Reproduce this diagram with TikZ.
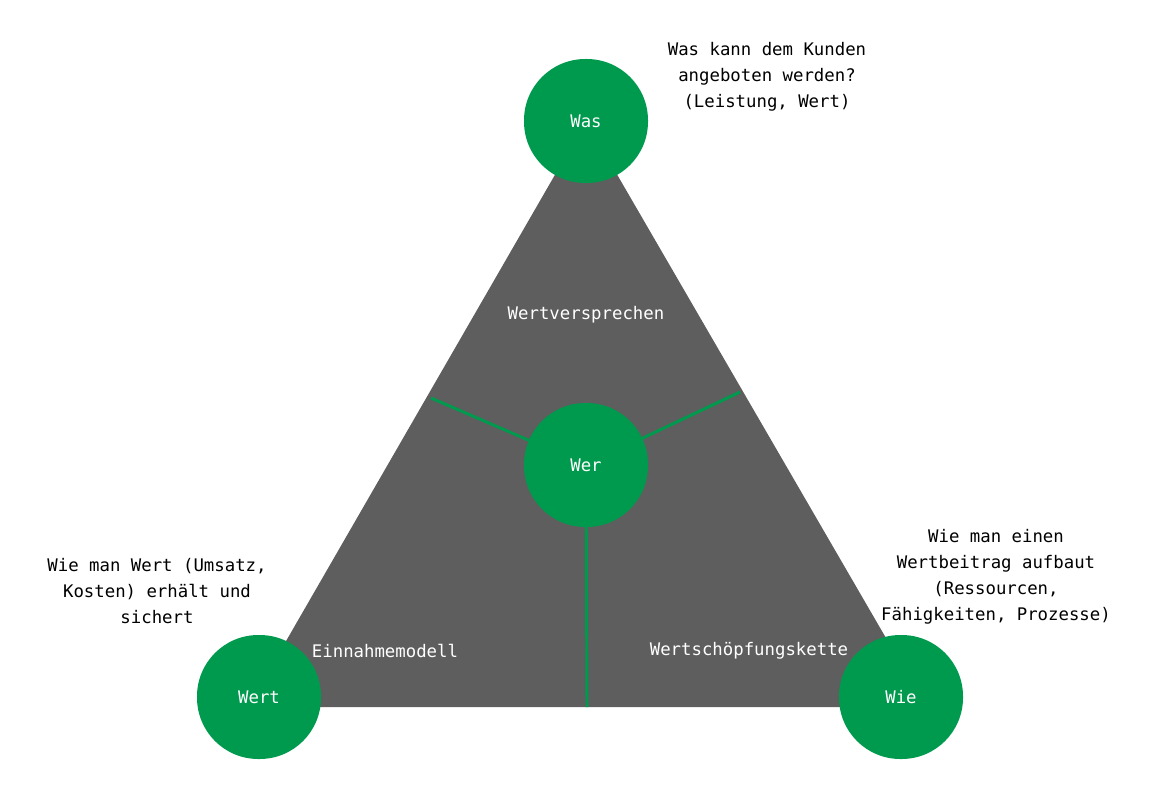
\documentclass[tikz,border=0pt]{standalone}
\usepackage{fontspec}
\setmainfont{DejaVu Sans Mono}
\usetikzlibrary{backgrounds}
\definecolor{wgreen}{HTML}{009A4E}
\definecolor{wgray}{HTML}{5E5E5E}
\begin{document}
\begin{tikzpicture}[x=0.75pt, y=-0.75pt,
    font=\fontsize{13}{19.5}\selectfont,
    blob/.style={fill=wgreen, text=white, minimum size=93pt, inner sep=0pt, rounded corners=46pt},
    inlabel/.style={text=white},
    note/.style={align=center, text=black}]
    \useasboundingbox (0,0) rectangle (1155,795);
    % Ecken und Mitte
    \node[blob] (was) at (586,121) {Was};
    \node[blob] (wert) at (259,697) {Wert};
    \node[blob] (wie) at (901,697) {Wie};
    \node[blob] (wer) at (586,465) {Wer};
    % Punkte auf den Dreieckseiten
    \coordinate (links) at (431,398);
    \coordinate (rechts) at (740,392);
    \coordinate (unten) at (587,707);
    % Dreieck mit Trennlinien
    \begin{scope}[on background layer]
        \fill[wgray] (was.center) -- (248,707) -- (926,707) -- cycle;
        \draw[wgreen, line width=2.2pt] (wer.center) -- (links);
        \draw[wgreen, line width=2.2pt] (wer.center) -- (rechts);
        \draw[wgreen, line width=2.2pt] (wer.center) -- (unten);
    \end{scope}
    % Beschriftungen im Dreieck
    \node[inlabel] (wv) at (586,315) {Wertversprechen};
    \node[inlabel] (em) at (385,651) {Einnahmemodell};
    \node[inlabel] (wk) at (749,651) {Wertschöpfungskette};
    % Erklärungen
    \node[note] (twas) at (767,77) {Was kann dem Kunden\\angeboten werden?\\(Leistung, Wert)};
    \node[note] (twert) at (157,591) {Wie man Wert (Umsatz,\\Kosten) erhält und\\sichert};
    \node[note] (twie) at (996,577) {Wie man einen\\Wertbeitrag aufbaut\\(Ressourcen,\\Fähigkeiten, Prozesse)};
\end{tikzpicture}
\end{document}
